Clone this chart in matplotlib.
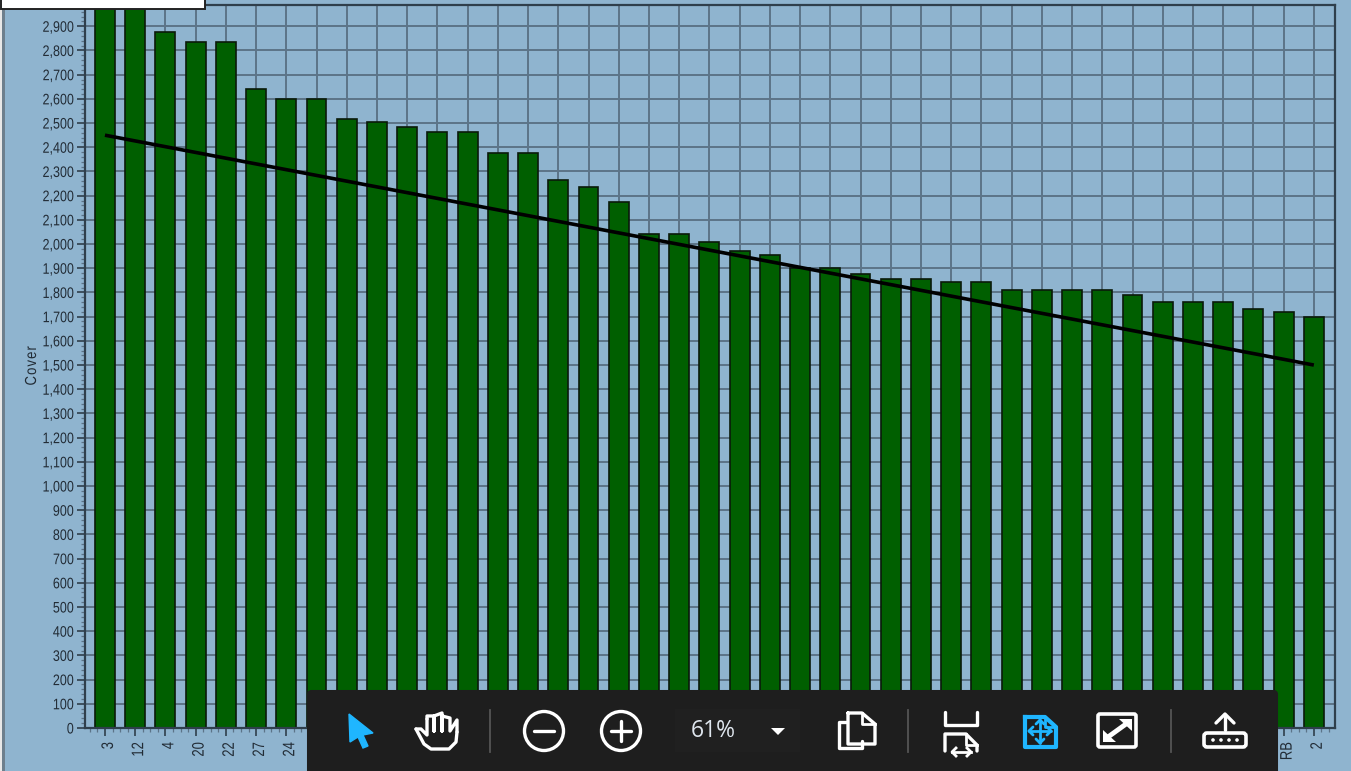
import matplotlib
matplotlib.use("Agg")
import matplotlib.pyplot as plt
import matplotlib.patheffects as pe
from matplotlib.patches import Rectangle, FancyBboxPatch, Circle, Polygon
from matplotlib.ticker import MultipleLocator, FuncFormatter
from matplotlib.transforms import Affine2D, ScaledTranslation
import numpy as np

labels = ["3", "12", "4", "20", "22", "27", "24"] + [""] * 32 + ["RB", "2"]
cover = [3000, 3000, 2875, 2835, 2835, 2640, 2600, 2600, 2515, 2505, 2485, 2465, 2465,
         2375, 2375, 2265, 2235, 2175, 2040, 2040, 2010, 1970, 1955, 1900, 1900, 1875,
         1855, 1855, 1845, 1845, 1810, 1810, 1810, 1810, 1790, 1760, 1760, 1760, 1730,
         1720, 1700]
trend_x = [0, 40]
trend_y = [2450, 1500]

W, H = 1351, 771
BG = "#8fb4cf"
GRID = "#5c7488"
DARK = "#2f3f4c"
TXT = "#222c36"
plt.rcParams["font.family"] = ["Liberation Sans", "DejaVu Sans"]


class Narrow(pe.AbstractPathEffect):
    """Compress real text along its baseline, keeping its end in place."""
    def __init__(self, k=0.82):
        super().__init__()
        self.k = k

    def draw_path(self, renderer, gc, tpath, affine, rgbFace=None):
        x1 = tpath.get_extents().x1
        a = Affine2D().translate(-x1, 0).scale(self.k, 1).translate(x1, 0) + affine
        renderer.draw_path(gc, tpath, a, rgbFace)


fig = plt.figure(figsize=(W / 100, H / 100), dpi=100, facecolor=BG)
L, R, T, B = 85, 1335, 5, 728
ax = fig.add_axes([L / W, 1 - B / H, (R - L) / W, (B - T) / H], facecolor=BG)
x = np.arange(len(cover))
ax.set_axisbelow(True)
ax.bar(x, cover, width=0.66, color="#005f00", edgecolor="#0a1a0a", linewidth=1.2)
ax.plot(trend_x, trend_y, color="black", lw=2.6, solid_capstyle="butt")
ax.set_xlim(-0.66, 40.7)
ax.set_ylim(0, 2988)
ax.set_xticks(x)
ax.set_xticklabels(labels, rotation=90, fontsize=12, color=TXT)
ax.xaxis.set_minor_locator(MultipleLocator(0.25))
ax.yaxis.set_major_locator(MultipleLocator(100))
ax.yaxis.set_minor_locator(MultipleLocator(20))
ax.yaxis.set_major_formatter(FuncFormatter(lambda v, p: f"{int(v):,}"))
ax.tick_params(axis="y", which="major", length=6, width=1.2, color=DARK, labelsize=11, labelcolor=TXT, pad=2)
ax.tick_params(axis="x", which="major", length=6, width=1.2, color=DARK, pad=4)
ax.tick_params(which="minor", length=3, width=0.9, color=GRID)
ax.grid(True, which="major", color=GRID, lw=1.4)
for s in ax.spines.values():
    s.set_color(DARK)
    s.set_linewidth(1.6)
shift = ScaledTranslation(3.5 / 100, 0, fig.dpi_scale_trans)
for lab in ax.get_xticklabels():
    lab.set_transform(lab.get_transform() + shift)
    lab.set_path_effects([Narrow(0.78)])
for lab in ax.get_yticklabels():
    lab.set_path_effects([Narrow()])
ax.set_ylabel("C\u200ao\u200av\u200ae\u200ar", fontsize=11.5, color=TXT, labelpad=0, path_effects=[Narrow()])
ax.yaxis.set_label_coords((39 - L) / (R - L), 1 - (370 - T) / (B - T))

# Screenshot overlay in pixel coordinates
ov = fig.add_axes([0, 0, 1, 1], facecolor="none")
ov.set_xlim(0, W)
ov.set_ylim(H, 0)
ov.axis("off")
ov.add_patch(Rectangle((0, 0), 2, H, color="#e8e8e8", lw=0))
ov.add_patch(Rectangle((2, 0), 3, H, color="#6d7f8d", lw=0))
ov.add_patch(Rectangle((1, -3), 204, 12, fc="white", ec="#222222", lw=1.4))
TB = "#1e1e1e"
BLUE = "#1fb6ff"
ov.add_patch(FancyBboxPatch((311, 694), 963, 90, boxstyle="round,pad=0,rounding_size=0", fc=TB, ec=TB, lw=5.8, joinstyle="round"))
for sx in (490, 908, 1171):
    ov.plot([sx, sx], [710, 752], color="#555555", lw=1.3)
ww = dict(color="white", lw=2.4, solid_capstyle="round", solid_joinstyle="round")
bb = dict(color=BLUE, lw=2, solid_capstyle="round", solid_joinstyle="round")
# cursor
ov.add_patch(Polygon([(349, 714), (373, 733), (363, 735), (368, 746), (363, 748), (358, 737), (350, 742)], fc=BLUE, ec=BLUE, lw=1))
# hand
ov.plot([416, 421, 427, 427], [729, 729, 735, 719], **ww)
ov.plot([427, 427, 434, 434, 434, 442, 442, 442, 450, 450, 457, 457],
        [719, 716, 716, 731, 716, 713, 731, 716, 718, 731, 720, 732], **ww)
ov.plot([457, 456, 449, 431, 424, 416], [732, 742, 749, 749, 744, 729], **ww)
# zoom buttons
for cx in (544, 621):
    ov.add_patch(Circle((cx, 731), 19.5, fc="none", ec="white", lw=2.4))
    ov.plot([cx - 10, cx + 10], [731, 731], **ww)
ov.plot([621, 621], [721, 741], **ww)
ov.add_patch(Rectangle((675, 709), 125, 43, fc="#202020", lw=0))
ov.text(713, 731, "61%", color="#dfe6ee", fontsize=16.5, family=["Open Sans"], ha="center", va="center")
ov.add_patch(Polygon([(771, 728), (785, 728), (778, 735)], fc="white", lw=0))
# copy icon
ov.plot([846, 839, 839, 862, 862], [722, 722, 748, 748, 741], **ww)
ov.plot([848, 862, 875, 875, 848, 848], [713, 713, 724, 744, 744, 713], **ww)
ov.plot([862, 862, 875], [713, 724, 724], color="white", lw=2)
# fit width
ov.plot([945, 945, 977, 977], [712, 725, 725, 712], **ww)
ov.plot([945, 945, 966, 977, 977], [751, 734, 734, 745, 751], **ww)
ov.plot([966, 966, 977], [734, 745, 745], color="white", lw=2)
ov.plot([952, 971], [752, 752], color="white", lw=2)
ov.plot([956, 952, 956], [748, 752, 756], color="white", lw=2)
ov.plot([967, 971, 967], [748, 752, 756], color="white", lw=2)
# active fit page
ov.plot([1025, 1045, 1056, 1056, 1025, 1025], [717, 717, 727, 747, 747, 717], color=BLUE, lw=3, solid_joinstyle="round")
ov.plot([1045, 1045, 1056], [717, 727, 727], color=BLUE, lw=2)
ov.plot([1029, 1051], [731, 731], **bb)
ov.plot([1040, 1040], [720, 743], **bb)
for px, py, qx, qy in ((1029, 731, 1033, 727), (1029, 731, 1033, 735), (1051, 731, 1047, 727), (1051, 731, 1047, 735),
                       (1040, 720, 1036, 724), (1040, 720, 1044, 724), (1040, 743, 1036, 739), (1040, 743, 1044, 739)):
    ov.plot([px, qx], [py, qy], **bb)
# expand
ov.add_patch(FancyBboxPatch((1098, 714), 38, 33, boxstyle="round,pad=0,rounding_size=2", fc="none", ec="white", lw=2.6))
ov.plot([1108, 1126], [737, 724], color="white", lw=3.5)
ov.add_patch(Polygon([(1132, 719), (1119, 719), (1132, 731)], fc="white", lw=0))
ov.add_patch(Polygon([(1103, 742), (1116, 742), (1103, 730)], fc="white", lw=0))
# upload
ov.add_patch(FancyBboxPatch((1204, 733), 42, 14, boxstyle="round,pad=0,rounding_size=3", fc="none", ec="white", lw=2.6))
ov.plot([1225, 1225], [715, 730], **ww)
ov.plot([1216, 1225, 1234], [723, 714, 723], **ww)
for dx in (1213, 1221, 1229, 1237):
    ov.add_patch(Circle((dx, 740), 1.8, fc="white", lw=0))

fig.savefig("out.png", dpi=100, facecolor=BG)
